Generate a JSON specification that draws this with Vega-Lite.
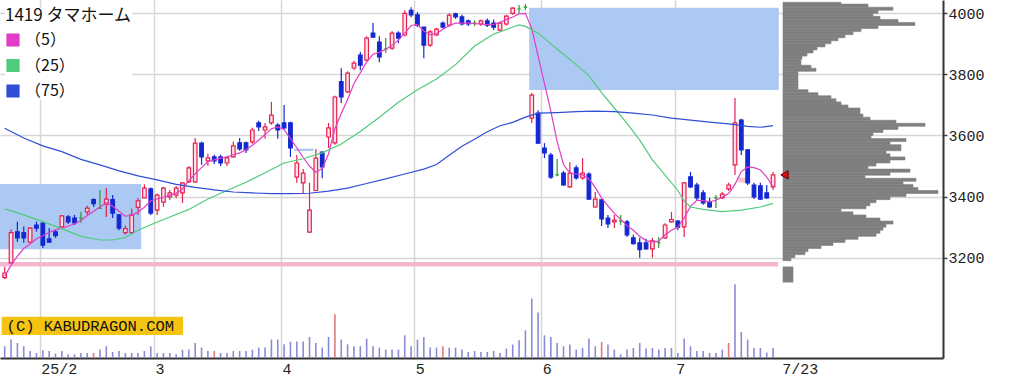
{
  "$schema": "https://vega.github.io/schema/vega-lite/v6.json",
  "width": 943,
  "height": 358,
  "autosize": {"type": "none"},
  "padding": {"left": 0, "top": 0, "right": 72, "bottom": 27},
  "background": "white",
  "config": {"view": {"stroke": null}, "font": "Liberation Mono"},
  "datasets": {
    "candles": [
      {"i":0,"o":3135,"h":3170,"l":3130,"c":3150,"v":11.7},
      {"i":1,"o":3183,"h":3292,"l":3180,"c":3282,"v":18.4},
      {"i":2,"o":3285,"h":3318,"l":3252,"c":3265,"v":15},
      {"i":3,"o":3282,"h":3302,"l":3249,"c":3265,"v":11.7},
      {"i":4,"o":3251,"h":3300,"l":3249,"c":3297,"v":7},
      {"i":5,"o":3307,"h":3318,"l":3285,"c":3297,"v":5},
      {"i":6,"o":3313,"h":3317,"l":3232,"c":3241,"v":7.7},
      {"i":7,"o":3262,"h":3297,"l":3248,"c":3251,"v":7},
      {"i":8,"o":3285,"h":3290,"l":3265,"c":3272,"v":4.4},
      {"i":9,"o":3301,"h":3340,"l":3300,"c":3337,"v":7},
      {"i":10,"o":3334,"h":3340,"l":3310,"c":3317,"v":3.7},
      {"i":11,"o":3330,"h":3340,"l":3307,"c":3314,"v":3.7},
      {"i":12,"o":3330,"h":3350,"l":3314,"c":3330,"v":5},
      {"i":13,"o":3350,"h":3370,"l":3340,"c":3362,"v":5},
      {"i":14,"o":3390,"h":3395,"l":3366,"c":3377,"v":5,"e":1},
      {"i":15,"o":3362,"h":3422,"l":3360,"c":3362,"v":8.4},
      {"i":16,"o":3375,"h":3428,"l":3333,"c":3392,"v":11.7},
      {"i":17,"o":3390,"h":3405,"l":3330,"c":3346,"v":6},
      {"i":18,"o":3340,"h":3343,"l":3290,"c":3297,"v":7},
      {"i":19,"o":3282,"h":3305,"l":3275,"c":3295,"v":5},
      {"i":20,"o":3282,"h":3360,"l":3278,"c":3340,"v":5},
      {"i":21,"o":3365,"h":3395,"l":3340,"c":3386,"v":5},
      {"i":22,"o":3396,"h":3440,"l":3395,"c":3428,"v":7},
      {"i":23,"o":3425,"h":3430,"l":3340,"c":3346,"v":11.7},
      {"i":24,"o":3356,"h":3410,"l":3340,"c":3405,"v":5},
      {"i":25,"o":3382,"h":3432,"l":3366,"c":3428,"v":5},
      {"i":26,"o":3399,"h":3422,"l":3389,"c":3412,"v":5},
      {"i":27,"o":3405,"h":3435,"l":3395,"c":3428,"v":3.7},
      {"i":28,"o":3412,"h":3448,"l":3379,"c":3445,"v":8.4},
      {"i":29,"o":3448,"h":3500,"l":3445,"c":3494,"v":8.4},
      {"i":30,"o":3448,"h":3592,"l":3445,"c":3575,"v":15},
      {"i":31,"o":3575,"h":3580,"l":3504,"c":3530,"v":10.4},
      {"i":32,"o":3517,"h":3540,"l":3500,"c":3527,"v":7},
      {"i":33,"o":3530,"h":3537,"l":3507,"c":3517,"v":7,"e":1},
      {"i":34,"o":3530,"h":3537,"l":3500,"c":3510,"v":5},
      {"i":35,"o":3510,"h":3533,"l":3500,"c":3527,"v":5},
      {"i":36,"o":3530,"h":3580,"l":3527,"c":3566,"v":7},
      {"i":37,"o":3576,"h":3592,"l":3550,"c":3556,"v":7},
      {"i":38,"o":3576,"h":3580,"l":3543,"c":3553,"v":7},
      {"i":39,"o":3579,"h":3625,"l":3573,"c":3618,"v":8.4},
      {"i":40,"o":3641,"h":3648,"l":3615,"c":3628,"v":10.4},
      {"i":41,"o":3618,"h":3641,"l":3589,"c":3628,"v":10.4},
      {"i":42,"o":3641,"h":3710,"l":3635,"c":3667,"v":18.4},
      {"i":43,"o":3634,"h":3640,"l":3589,"c":3618,"v":18.4},
      {"i":44,"o":3641,"h":3700,"l":3618,"c":3625,"v":13.7},
      {"i":45,"o":3641,"h":3645,"l":3530,"c":3559,"v":16.4},
      {"i":46,"o":3464,"h":3536,"l":3445,"c":3510,"v":16.4},
      {"i":47,"o":3445,"h":3490,"l":3410,"c":3477,"v":16.4},
      {"i":48,"o":3284,"h":3445,"l":3281,"c":3356,"v":21},
      {"i":49,"o":3420,"h":3556,"l":3418,"c":3526,"v":15},
      {"i":50,"o":3546,"h":3548,"l":3460,"c":3497,"v":10.4},
      {"i":51,"o":3595,"h":3641,"l":3559,"c":3625,"v":21},
      {"i":52,"o":3576,"h":3730,"l":3570,"c":3726,"v":43.7,"e":1},
      {"i":53,"o":3776,"h":3820,"l":3706,"c":3726,"v":18.4},
      {"i":54,"o":3743,"h":3810,"l":3740,"c":3804,"v":13.7},
      {"i":55,"o":3821,"h":3845,"l":3814,"c":3837,"v":11.7},
      {"i":56,"o":3863,"h":3873,"l":3814,"c":3830,"v":11.7},
      {"i":57,"o":3847,"h":3925,"l":3843,"c":3919,"v":19.4},
      {"i":58,"o":3935,"h":3968,"l":3919,"c":3922,"v":11.7},
      {"i":59,"o":3906,"h":3925,"l":3840,"c":3857,"v":10.4},
      {"i":60,"o":3883,"h":3919,"l":3870,"c":3883,"v":8.4},
      {"i":61,"o":3886,"h":3941,"l":3880,"c":3935,"v":8.4},
      {"i":62,"o":3935,"h":3941,"l":3902,"c":3919,"v":8.4},
      {"i":63,"o":3929,"h":4010,"l":3925,"c":4000,"v":22.7},
      {"i":64,"o":4010,"h":4020,"l":3987,"c":3995,"v":11.7},
      {"i":65,"o":3995,"h":4004,"l":3955,"c":3961,"v":18.4},
      {"i":66,"o":3955,"h":3955,"l":3853,"c":3896,"v":21},
      {"i":67,"o":3896,"h":3945,"l":3890,"c":3939,"v":10.4},
      {"i":68,"o":3929,"h":3952,"l":3925,"c":3948,"v":10.4},
      {"i":69,"o":3968,"h":3973,"l":3950,"c":3955,"v":11.7,"e":1},
      {"i":70,"o":3961,"h":4000,"l":3955,"c":3994,"v":10.4},
      {"i":71,"o":3998,"h":4002,"l":3982,"c":3988,"v":10.4},
      {"i":72,"o":3988,"h":3995,"l":3960,"c":3965,"v":8.4},
      {"i":73,"o":3975,"h":3980,"l":3958,"c":3965,"v":6},
      {"i":74,"o":3968,"h":3977,"l":3958,"c":3968,"v":7},
      {"i":75,"o":3965,"h":3980,"l":3958,"c":3975,"v":6},
      {"i":76,"o":3975,"h":3983,"l":3955,"c":3961,"v":6},
      {"i":77,"o":3968,"h":3980,"l":3945,"c":3955,"v":7},
      {"i":78,"o":3945,"h":3973,"l":3942,"c":3968,"v":5},
      {"i":79,"o":3965,"h":3995,"l":3960,"c":3991,"v":9.4},
      {"i":80,"o":4000,"h":4020,"l":3995,"c":4017,"v":13.4},
      {"i":81,"o":4014,"h":4027,"l":4000,"c":4014,"v":17.7},
      {"i":82,"o":4020,"h":4030,"l":4010,"c":4020,"v":27.7},
      {"i":83,"o":3657,"h":3739,"l":3641,"c":3732,"v":59.4},
      {"i":84,"o":3673,"h":3683,"l":3572,"c":3575,"v":45.4},
      {"i":85,"o":3559,"h":3575,"l":3526,"c":3543,"v":22.7},
      {"i":86,"o":3536,"h":3543,"l":3458,"c":3464,"v":21},
      {"i":87,"o":3471,"h":3523,"l":3467,"c":3471,"v":15},
      {"i":88,"o":3477,"h":3484,"l":3435,"c":3438,"v":11.7},
      {"i":89,"o":3432,"h":3513,"l":3428,"c":3477,"v":13.4},
      {"i":90,"o":3494,"h":3503,"l":3455,"c":3461,"v":8.4},
      {"i":91,"o":3461,"h":3526,"l":3455,"c":3477,"v":10},
      {"i":92,"o":3474,"h":3480,"l":3389,"c":3392,"v":19.4},
      {"i":93,"o":3366,"h":3415,"l":3363,"c":3392,"v":11.7},
      {"i":94,"o":3389,"h":3392,"l":3304,"c":3327,"v":16,"e":1},
      {"i":95,"o":3330,"h":3340,"l":3297,"c":3311,"v":13.4},
      {"i":96,"o":3317,"h":3340,"l":3297,"c":3323,"v":8.4},
      {"i":97,"o":3320,"h":3340,"l":3307,"c":3320,"v":3.7},
      {"i":98,"o":3317,"h":3323,"l":3268,"c":3275,"v":8.4},
      {"i":99,"o":3265,"h":3275,"l":3243,"c":3246,"v":10},
      {"i":100,"o":3249,"h":3265,"l":3200,"c":3226,"v":15},
      {"i":101,"o":3249,"h":3262,"l":3226,"c":3229,"v":9.4},
      {"i":102,"o":3229,"h":3265,"l":3200,"c":3255,"v":10},
      {"i":103,"o":3249,"h":3268,"l":3232,"c":3249,"v":8.4},
      {"i":104,"o":3265,"h":3313,"l":3262,"c":3307,"v":10},
      {"i":105,"o":3317,"h":3350,"l":3315,"c":3325,"v":10},
      {"i":106,"o":3320,"h":3323,"l":3290,"c":3300,"v":5},
      {"i":107,"o":3301,"h":3448,"l":3268,"c":3445,"v":19.4},
      {"i":108,"o":3465,"h":3481,"l":3428,"c":3432,"v":11.7},
      {"i":109,"o":3438,"h":3445,"l":3389,"c":3396,"v":7},
      {"i":110,"o":3412,"h":3422,"l":3373,"c":3379,"v":7},
      {"i":111,"o":3383,"h":3396,"l":3363,"c":3366,"v":5},
      {"i":112,"o":3396,"h":3405,"l":3363,"c":3396,"v":5},
      {"i":113,"o":3396,"h":3415,"l":3392,"c":3408,"v":8.4},
      {"i":114,"o":3425,"h":3445,"l":3418,"c":3438,"v":15,"e":1},
      {"i":115,"o":3504,"h":3723,"l":3471,"c":3641,"v":73.7},
      {"i":116,"o":3650,"h":3655,"l":3536,"c":3553,"v":26},
      {"i":117,"o":3553,"h":3556,"l":3438,"c":3445,"v":18.4},
      {"i":118,"o":3438,"h":3445,"l":3392,"c":3399,"v":10},
      {"i":119,"o":3435,"h":3445,"l":3389,"c":3392,"v":10},
      {"i":120,"o":3412,"h":3438,"l":3392,"c":3396,"v":5.4},
      {"i":121,"o":3432,"h":3481,"l":3422,"c":3471,"v":10}
    ],
    "ma": [
      {"i":0,"s":"（5）","p":3140},{"i":1,"s":"（5）","p":3175},{"i":2,"s":"（5）","p":3205},{"i":3,"s":"（5）","p":3230},{"i":4,"s":"（5）","p":3245},
      {"i":5,"s":"（5）","p":3262},{"i":6,"s":"（5）","p":3272},{"i":7,"s":"（5）","p":3283},{"i":8,"s":"（5）","p":3291},{"i":9,"s":"（5）","p":3297},
      {"i":10,"s":"（5）","p":3303},{"i":11,"s":"（5）","p":3311},{"i":12,"s":"（5）","p":3322},{"i":13,"s":"（5）","p":3338},{"i":14,"s":"（5）","p":3352},
      {"i":15,"s":"（5）","p":3366},{"i":16,"s":"（5）","p":3380},{"i":17,"s":"（5）","p":3368},{"i":18,"s":"（5）","p":3352},{"i":19,"s":"（5）","p":3336},
      {"i":20,"s":"（5）","p":3338},{"i":21,"s":"（5）","p":3350},{"i":22,"s":"（5）","p":3365},{"i":23,"s":"（5）","p":3386},{"i":24,"s":"（5）","p":3392},
      {"i":25,"s":"（5）","p":3398},{"i":26,"s":"（5）","p":3405},{"i":27,"s":"（5）","p":3411},{"i":28,"s":"（5）","p":3425},{"i":29,"s":"（5）","p":3452},
      {"i":30,"s":"（5）","p":3475},{"i":31,"s":"（5）","p":3495},{"i":32,"s":"（5）","p":3515},{"i":33,"s":"（5）","p":3520},{"i":34,"s":"（5）","p":3526},
      {"i":35,"s":"（5）","p":3530},{"i":36,"s":"（5）","p":3537},{"i":37,"s":"（5）","p":3543},{"i":38,"s":"（5）","p":3553},{"i":39,"s":"（5）","p":3568},
      {"i":40,"s":"（5）","p":3585},{"i":41,"s":"（5）","p":3603},{"i":42,"s":"（5）","p":3622},{"i":43,"s":"（5）","p":3628},{"i":44,"s":"（5）","p":3620},
      {"i":45,"s":"（5）","p":3590},{"i":46,"s":"（5）","p":3560},{"i":47,"s":"（5）","p":3528},{"i":48,"s":"（5）","p":3500},{"i":49,"s":"（5）","p":3480},
      {"i":50,"s":"（5）","p":3492},{"i":51,"s":"（5）","p":3540},{"i":52,"s":"（5）","p":3622},{"i":53,"s":"（5）","p":3672},{"i":54,"s":"（5）","p":3718},
      {"i":55,"s":"（5）","p":3770},{"i":56,"s":"（5）","p":3805},{"i":57,"s":"（5）","p":3841},{"i":58,"s":"（5）","p":3866},{"i":59,"s":"（5）","p":3872},
      {"i":60,"s":"（5）","p":3882},{"i":61,"s":"（5）","p":3895},{"i":62,"s":"（5）","p":3912},{"i":63,"s":"（5）","p":3935},{"i":64,"s":"（5）","p":3960},
      {"i":65,"s":"（5）","p":3963},{"i":66,"s":"（5）","p":3942},{"i":67,"s":"（5）","p":3930},{"i":68,"s":"（5）","p":3933},{"i":69,"s":"（5）","p":3948},
      {"i":70,"s":"（5）","p":3960},{"i":71,"s":"（5）","p":3968},{"i":72,"s":"（5）","p":3968},{"i":73,"s":"（5）","p":3968},{"i":74,"s":"（5）","p":3966},
      {"i":75,"s":"（5）","p":3965},{"i":76,"s":"（5）","p":3963},{"i":77,"s":"（5）","p":3964},{"i":78,"s":"（5）","p":3970},{"i":79,"s":"（5）","p":3980},
      {"i":80,"s":"（5）","p":3988},{"i":81,"s":"（5）","p":3998},{"i":82,"s":"（5）","p":4000},{"i":83,"s":"（5）","p":3950},{"i":84,"s":"（5）","p":3860},
      {"i":85,"s":"（5）","p":3770},{"i":86,"s":"（5）","p":3680},{"i":87,"s":"（5）","p":3580},{"i":88,"s":"（5）","p":3505},{"i":89,"s":"（5）","p":3477},
      {"i":90,"s":"（5）","p":3474},{"i":91,"s":"（5）","p":3471},{"i":92,"s":"（5）","p":3458},{"i":93,"s":"（5）","p":3430},{"i":94,"s":"（5）","p":3395},
      {"i":95,"s":"（5）","p":3370},{"i":96,"s":"（5）","p":3345},{"i":97,"s":"（5）","p":3325},{"i":98,"s":"（5）","p":3305},{"i":99,"s":"（5）","p":3290},
      {"i":100,"s":"（5）","p":3270},{"i":101,"s":"（5）","p":3256},{"i":102,"s":"（5）","p":3252},{"i":103,"s":"（5）","p":3254},{"i":104,"s":"（5）","p":3275},
      {"i":105,"s":"（5）","p":3290},{"i":106,"s":"（5）","p":3300},{"i":107,"s":"（5）","p":3330},{"i":108,"s":"（5）","p":3368},{"i":109,"s":"（5）","p":3388},
      {"i":110,"s":"（5）","p":3387},{"i":111,"s":"（5）","p":3383},{"i":112,"s":"（5）","p":3388},{"i":113,"s":"（5）","p":3398},{"i":114,"s":"（5）","p":3410},
      {"i":115,"s":"（5）","p":3440},{"i":116,"s":"（5）","p":3482},{"i":117,"s":"（5）","p":3497},{"i":118,"s":"（5）","p":3495},{"i":119,"s":"（5）","p":3487},
      {"i":120,"s":"（5）","p":3464},{"i":121,"s":"（5）","p":3432},
      {"i":0,"s":"（25）","p":3360},{"i":3,"s":"（25）","p":3340},{"i":6,"s":"（25）","p":3318},{"i":9,"s":"（25）","p":3295},{"i":12,"s":"（25）","p":3270},
      {"i":15,"s":"（25）","p":3258},{"i":17,"s":"（25）","p":3258},{"i":19,"s":"（25）","p":3266},{"i":21,"s":"（25）","p":3290},{"i":23,"s":"（25）","p":3308},
      {"i":26,"s":"（25）","p":3333},{"i":29,"s":"（25）","p":3358},{"i":32,"s":"（25）","p":3392},{"i":35,"s":"（25）","p":3420},{"i":38,"s":"（25）","p":3447},
      {"i":41,"s":"（25）","p":3478},{"i":44,"s":"（25）","p":3510},{"i":47,"s":"（25）","p":3524},{"i":50,"s":"（25）","p":3543},{"i":53,"s":"（25）","p":3572},
      {"i":56,"s":"（25）","p":3613},{"i":59,"s":"（25）","p":3660},{"i":62,"s":"（25）","p":3709},{"i":65,"s":"（25）","p":3750},{"i":68,"s":"（25）","p":3785},
      {"i":71,"s":"（25）","p":3832},{"i":74,"s":"（25）","p":3893},{"i":77,"s":"（25）","p":3932},{"i":80,"s":"（25）","p":3955},{"i":81,"s":"（25）","p":3962},
      {"i":82,"s":"（25）","p":3957},{"i":84,"s":"（25）","p":3935},{"i":86,"s":"（25）","p":3900},{"i":88,"s":"（25）","p":3866},{"i":90,"s":"（25）","p":3832},
      {"i":92,"s":"（25）","p":3796},{"i":94,"s":"（25）","p":3740},{"i":96,"s":"（25）","p":3690},{"i":98,"s":"（25）","p":3640},{"i":100,"s":"（25）","p":3585},
      {"i":102,"s":"（25）","p":3520},{"i":104,"s":"（25）","p":3470},{"i":106,"s":"（25）","p":3420},{"i":107,"s":"（25）","p":3385},{"i":108,"s":"（25）","p":3366},
      {"i":110,"s":"（25）","p":3358},{"i":113,"s":"（25）","p":3351},{"i":116,"s":"（25）","p":3356},{"i":119,"s":"（25）","p":3366},{"i":121,"s":"（25）","p":3378},
      {"i":0,"s":"（75）","p":3624},{"i":3,"s":"（75）","p":3592},{"i":6,"s":"（75）","p":3566},{"i":9,"s":"（75）","p":3547},{"i":12,"s":"（75）","p":3522},
      {"i":15,"s":"（75）","p":3504},{"i":18,"s":"（75）","p":3484},{"i":21,"s":"（75）","p":3468},{"i":24,"s":"（75）","p":3455},{"i":27,"s":"（75）","p":3440},
      {"i":30,"s":"（75）","p":3430},{"i":33,"s":"（75）","p":3422},{"i":36,"s":"（75）","p":3415},{"i":39,"s":"（75）","p":3412},{"i":42,"s":"（75）","p":3410},
      {"i":45,"s":"（75）","p":3410},{"i":48,"s":"（75）","p":3411},{"i":51,"s":"（75）","p":3418},{"i":54,"s":"（75）","p":3428},{"i":57,"s":"（75）","p":3443},
      {"i":60,"s":"（75）","p":3458},{"i":63,"s":"（75）","p":3474},{"i":66,"s":"（75）","p":3490},{"i":68,"s":"（75）","p":3505},{"i":70,"s":"（75）","p":3535},
      {"i":72,"s":"（75）","p":3565},{"i":74,"s":"（75）","p":3588},{"i":76,"s":"（75）","p":3612},{"i":78,"s":"（75）","p":3632},{"i":80,"s":"（75）","p":3643},
      {"i":82,"s":"（75）","p":3660},{"i":84,"s":"（75）","p":3673},{"i":87,"s":"（75）","p":3675},{"i":90,"s":"（75）","p":3678},{"i":93,"s":"（75）","p":3680},
      {"i":96,"s":"（75）","p":3678},{"i":99,"s":"（75）","p":3673},{"i":102,"s":"（75）","p":3667},{"i":105,"s":"（75）","p":3657},{"i":108,"s":"（75）","p":3650},
      {"i":111,"s":"（75）","p":3644},{"i":114,"s":"（75）","p":3638},{"i":117,"s":"（75）","p":3630},{"i":119,"s":"（75）","p":3627},{"i":121,"s":"（75）","p":3632}
    ],
    "zones": [
      {"kind":"down","i1":-0.74,"i2":21.5,"p1":3228,"p2":3441},
      {"kind":"down","i1":82.6,"i2":121.9,"p1":3749,"p2":4018},
      {"kind":"down","i1":45.6,"i2":48.6,"p1":3549,"p2":3557},
      {"kind":"up","i1":115.5,"i2":116.9,"p1":3446,"p2":3462},
      {"kind":"low","i1":-0.74,"i2":121.8,"p1":3171,"p2":3186}
    ],
    "profile": [
      {"lo":4030,"hi":4036,"len":58},{"lo":4020,"hi":4030,"len":85},{"lo":4010,"hi":4020,"len":110},{"lo":4000,"hi":4010,"len":95},
      {"lo":3990,"hi":4000,"len":90},{"lo":3980,"hi":3990,"len":97},{"lo":3970,"hi":3980,"len":115},{"lo":3960,"hi":3970,"len":132},
      {"lo":3950,"hi":3960,"len":95},{"lo":3940,"hi":3950,"len":78},{"lo":3930,"hi":3940,"len":70},{"lo":3920,"hi":3930,"len":62},
      {"lo":3910,"hi":3920,"len":55},{"lo":3900,"hi":3910,"len":48},{"lo":3890,"hi":3900,"len":42},{"lo":3880,"hi":3890,"len":34},
      {"lo":3870,"hi":3880,"len":30},{"lo":3860,"hi":3870,"len":24},{"lo":3850,"hi":3860,"len":19},{"lo":3840,"hi":3850,"len":18},
      {"lo":3830,"hi":3840,"len":18},{"lo":3820,"hi":3830,"len":28},{"lo":3810,"hi":3820,"len":33},{"lo":3800,"hi":3810,"len":15},
      {"lo":3790,"hi":3800,"len":15},{"lo":3780,"hi":3790,"len":15},{"lo":3770,"hi":3780,"len":15},{"lo":3760,"hi":3770,"len":15},
      {"lo":3750,"hi":3760,"len":15},{"lo":3740,"hi":3750,"len":25},{"lo":3730,"hi":3740,"len":35},{"lo":3720,"hi":3730,"len":48},
      {"lo":3710,"hi":3720,"len":53},{"lo":3700,"hi":3710,"len":58},{"lo":3690,"hi":3700,"len":65},{"lo":3680,"hi":3690,"len":77},
      {"lo":3670,"hi":3680,"len":77},{"lo":3660,"hi":3670,"len":80},{"lo":3650,"hi":3660,"len":87},{"lo":3640,"hi":3650,"len":113},
      {"lo":3630,"hi":3640,"len":142},{"lo":3620,"hi":3630,"len":115},{"lo":3610,"hi":3620,"len":100},{"lo":3600,"hi":3610,"len":90},
      {"lo":3590,"hi":3600,"len":88},{"lo":3580,"hi":3590,"len":123},{"lo":3570,"hi":3580,"len":107},{"lo":3560,"hi":3570,"len":118},
      {"lo":3550,"hi":3560,"len":118},{"lo":3540,"hi":3550,"len":103},{"lo":3530,"hi":3540,"len":107},{"lo":3520,"hi":3530,"len":122},
      {"lo":3510,"hi":3520,"len":107},{"lo":3500,"hi":3510,"len":93},{"lo":3490,"hi":3500,"len":85},{"lo":3480,"hi":3490,"len":127},
      {"lo":3470,"hi":3480,"len":107},{"lo":3460,"hi":3470,"len":82},{"lo":3450,"hi":3460,"len":133},{"lo":3440,"hi":3450,"len":120},
      {"lo":3430,"hi":3440,"len":130},{"lo":3420,"hi":3430,"len":135},{"lo":3410,"hi":3420,"len":155},{"lo":3400,"hi":3410,"len":123},
      {"lo":3390,"hi":3400,"len":107},{"lo":3380,"hi":3390,"len":93},{"lo":3370,"hi":3380,"len":87},{"lo":3360,"hi":3370,"len":83},
      {"lo":3350,"hi":3360,"len":58},{"lo":3340,"hi":3350,"len":70},{"lo":3330,"hi":3340,"len":83},{"lo":3320,"hi":3330,"len":97},
      {"lo":3310,"hi":3320,"len":110},{"lo":3300,"hi":3310,"len":103},{"lo":3290,"hi":3300,"len":100},{"lo":3280,"hi":3290,"len":97},
      {"lo":3270,"hi":3280,"len":93},{"lo":3260,"hi":3270,"len":75},{"lo":3250,"hi":3260,"len":62},{"lo":3240,"hi":3250,"len":50},
      {"lo":3230,"hi":3240,"len":38},{"lo":3220,"hi":3230,"len":25},{"lo":3210,"hi":3220,"len":22},{"lo":3200,"hi":3210,"len":12},
      {"lo":3190,"hi":3200,"len":8},{"lo":3120,"hi":3170,"len":10}
    ]
  },
  "layer": [
    {
      "layer": [
        {
          "data": {"name": "zones"},
          "transform": [{"filter": "datum.kind == 'down'"}],
          "mark": {"type": "rect", "fill": "#abc9f3"},
          "encoding": {
            "x": {"field": "i1", "type": "quantitative", "title": null, "scale": {"domain": [-0.7402, 147.76], "nice": false, "zero": false, "padding": 0},
              "axis": {"orient": "bottom", "title": null, "values": [5.5, 23.5, 43.5, 64.5, 84.5, 105.5, 122.2],
                "labelExpr": "datum.value < 6 ? '25/2' : datum.value < 24 ? '3' : datum.value < 44 ? '4' : datum.value < 65 ? '5' : datum.value < 85 ? '6' : datum.value < 106 ? '7' : '7/23'",
                "labelAlign": "left", "labelOffset": 1, "labelPadding": 3, "labelFont": "Liberation Mono", "labelFontSize": 15, "labelColor": "#222",
                "labelFlush": false, "labelOverlap": false, "ticks": false,
                "grid": true, "gridColor": "#d6d6d6", "gridWidth": 1.5,
                "gridOpacity": {"condition": {"test": "datum.value > 120", "value": 0}, "value": 1},
                "domainColor": "#333", "domainWidth": 2}},
            "x2": {"field": "i2"},
            "y": {"field": "p1", "type": "quantitative", "title": null, "scale": {"domain": [2871.7, 4043.5], "nice": false, "zero": false, "padding": 0},
              "axis": {"orient": "right", "title": null, "values": [3200, 3400, 3600, 3800, 4000], "format": "d",
                "labelFont": "Liberation Mono", "labelFontSize": 15, "labelColor": "#222", "labelPadding": 1,
                "tickSize": 4, "tickColor": "#444", "tickWidth": 1.5,
                "grid": true, "gridColor": "#d6d6d6", "gridWidth": 1.5,
                "domainColor": "#333", "domainWidth": 2}},
            "y2": {"field": "p2"}
          }
        },
        {
          "data": {"name": "zones"},
          "transform": [{"filter": "datum.kind == 'low'"}],
          "mark": {"type": "rect", "fill": "#f5b7cf"},
          "encoding": {
            "x": {"field": "i1", "type": "quantitative", "title": null},
            "x2": {"field": "i2"},
            "y": {"field": "p1", "type": "quantitative", "title": null},
            "y2": {"field": "p2"}
          }
        },
        {
          "data": {"name": "zones"},
          "transform": [{"filter": "datum.kind == 'up'"}],
          "mark": {"type": "rect", "fill": "#f6c3cc"},
          "encoding": {
            "x": {"field": "i1", "type": "quantitative", "title": null},
            "x2": {"field": "i2"},
            "y": {"field": "p1", "type": "quantitative", "title": null},
            "y2": {"field": "p2"}
          }
        },
        {
          "data": {"values": [{}]},
          "mark": {"type": "rect", "fill": "#f5c412"},
          "encoding": {
            "x": {"datum": -0.47, "type": "quantitative", "title": null},
            "x2": {"datum": 28.08},
            "y": {"datum": 2947, "type": "quantitative", "title": null},
            "y2": {"datum": 3007}
          }
        },
        {
          "data": {"values": [{"t": "(C) KABUDRAGON.COM"}]},
          "mark": {"type": "text", "align": "left", "baseline": "middle", "font": "Liberation Mono", "fontSize": 15.5, "color": "#111"},
          "encoding": {
            "x": {"datum": 0.3, "type": "quantitative", "title": null},
            "y": {"datum": 2977, "type": "quantitative", "title": null},
            "text": {"field": "t"}
          }
        },
        {
          "data": {"name": "candles"},
          "mark": {"type": "rule", "strokeWidth": 1.2},
          "encoding": {
            "x": {"field": "i", "type": "quantitative", "title": null},
            "y": {"field": "l", "type": "quantitative", "title": null},
            "y2": {"field": "h"},
            "color": {"condition": [{"test": "datum.c > datum.o", "value": "#e5214f"}, {"test": "datum.c < datum.o", "value": "#1428d2"}], "value": "#2a9a2a"}
          }
        },
        {
          "data": {"name": "candles"},
          "mark": {"type": "bar", "width": 3.6, "strokeWidth": 1.2},
          "encoding": {
            "x": {"field": "i", "type": "quantitative", "title": null},
            "y": {"field": "o", "type": "quantitative", "title": null},
            "y2": {"field": "c"},
            "fill": {"condition": [{"test": "datum.c > datum.o", "value": "#fbe2ea"}, {"test": "datum.c < datum.o", "value": "#1428d2"}], "value": "#2a9a2a"},
            "stroke": {"condition": [{"test": "datum.c > datum.o", "value": "#e5214f"}, {"test": "datum.c < datum.o", "value": "#1428d2"}], "value": "#2a9a2a"}
          }
        },
        {
          "data": {"name": "ma"},
          "mark": {"type": "line", "interpolate": "linear"},
          "encoding": {
            "x": {"field": "i", "type": "quantitative", "title": null},
            "y": {"field": "p", "type": "quantitative", "title": null},
            "color": {"field": "s", "type": "nominal",
              "scale": {"domain": ["（5）", "（25）", "（75）"], "range": ["#e23cc4", "#4fcb7a", "#2f4fd6"]},
              "legend": {"orient": "none", "legendX": 5, "legendY": 8, "title": "1419 タマホーム",
                "titleFont": "Noto Sans CJK JP", "titleFontSize": 17, "titleFontWeight": "normal", "titleColor": "#111", "titlePadding": 7,
                "labelFont": "Noto Sans CJK JP", "labelFontSize": 16, "labelColor": "#111", "labelOffset": 4,
                "symbolType": "square", "symbolSize": 144, "symbolStrokeWidth": 0, "rowPadding": 7.5, "padding": 0,
                "fillColor": "white",
                "encode": {"symbols": {"update": {"fill": {"scale": "color", "field": "value"}, "fillOpacity": {"value": 1}, "shape": {"value": "square"}, "strokeWidth": {"value": 0}}}}}},
            "strokeWidth": {"field": "s", "type": "nominal", "scale": {"domain": ["（5）", "（25）", "（75）"], "range": [1.2, 1.2, 1.8]}, "legend": null}
          }
        }
      ]
    },
    {
      "data": {"name": "candles"},
      "mark": {"type": "bar", "width": 1.6},
      "encoding": {
        "x": {"field": "i", "type": "quantitative", "scale": {"domain": [-0.7402, 147.76], "nice": false, "zero": false, "padding": 0}, "axis": null},
        "y": {"field": "v", "type": "quantitative", "scale": {"domain": [0, 358], "nice": false, "padding": 0}, "axis": null},
        "color": {"condition": {"test": "datum.e == 1", "value": "#e07a7a"}, "value": "#8a8ad8"}
      }
    },
    {
      "layer": [
        {
          "data": {"name": "profile"},
          "mark": {"type": "rect", "fill": "#7f7f7f", "stroke": "#7f7f7f", "strokeWidth": 0.6},
          "encoding": {
            "x": {"field": "len", "type": "quantitative", "scale": {"domain": [-783, 160], "nice": false, "zero": false, "padding": 0}, "axis": null},
            "x2": {"datum": 0},
            "y": {"field": "lo", "type": "quantitative", "scale": {"domain": [2871.7, 4043.5], "nice": false, "zero": false, "padding": 0}, "axis": null},
            "y2": {"field": "hi"}
          }
        },
        {
          "data": {"name": "candles"},
          "transform": [{"filter": "datum.i == 121"}],
          "mark": {"type": "point", "shape": "triangle-left", "filled": true, "size": 70, "fill": "#e01010", "stroke": "#5a0000", "strokeWidth": 1, "opacity": 1},
          "encoding": {
            "x": {"datum": 1.5, "type": "quantitative", "axis": null},
            "y": {"field": "c", "type": "quantitative", "axis": null}
          }
        }
      ]
    }
  ],
  "resolve": {"scale": {"x": "independent", "y": "independent"}}
}
